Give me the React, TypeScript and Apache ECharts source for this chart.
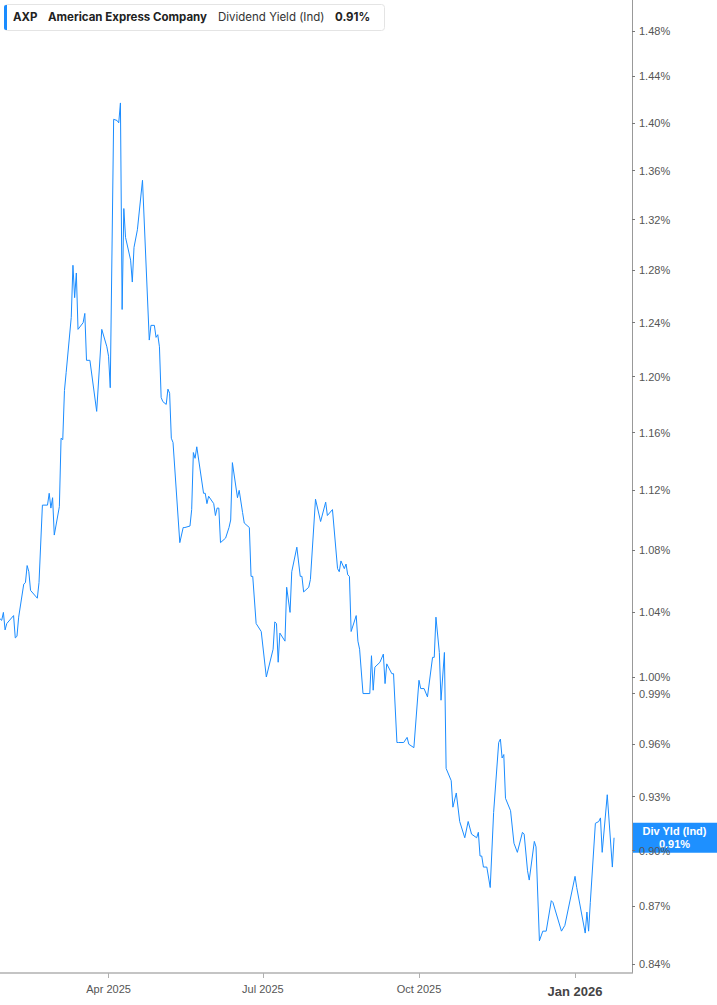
import React, { useEffect, useRef } from "react";
import * as echarts from "echarts";

const DATES = [
  "2025-01-27","2025-01-28","2025-01-29","2025-01-30","2025-01-31","2025-02-04","2025-02-05","2025-02-06","2025-02-07","2025-02-10",
  "2025-02-11","2025-02-12","2025-02-13","2025-02-14","2025-02-18","2025-02-19","2025-02-21","2025-02-24","2025-02-25","2025-02-26",
  "2025-02-27","2025-02-28","2025-03-03","2025-03-04","2025-03-05","2025-03-06","2025-03-07","2025-03-10","2025-03-11","2025-03-12",
  "2025-03-13","2025-03-14","2025-03-17","2025-03-18","2025-03-19","2025-03-21","2025-03-25","2025-03-28","2025-03-31","2025-04-01",
  "2025-04-02","2025-04-04","2025-04-06","2025-04-07","2025-04-08","2025-04-09","2025-04-10","2025-04-11","2025-04-14","2025-04-15",
  "2025-04-16","2025-04-18","2025-04-21","2025-04-25","2025-04-26","2025-04-28","2025-04-29","2025-04-30","2025-05-01","2025-05-02",
  "2025-05-03","2025-05-05","2025-05-06","2025-05-07","2025-05-08","2025-05-09","2025-05-13","2025-05-15","2025-05-16","2025-05-19",
  "2025-05-20","2025-05-21","2025-05-22","2025-05-23","2025-05-27","2025-05-28","2025-05-29","2025-05-30","2025-06-02","2025-06-03",
  "2025-06-04","2025-06-05","2025-06-06","2025-06-09","2025-06-11","2025-06-12","2025-06-13","2025-06-16","2025-06-17","2025-06-19",
  "2025-06-20","2025-06-23","2025-06-24","2025-06-25","2025-06-27","2025-06-30","2025-07-03","2025-07-07","2025-07-08","2025-07-09",
  "2025-07-10","2025-07-11","2025-07-14","2025-07-15","2025-07-17","2025-07-18","2025-07-21","2025-07-23","2025-07-24","2025-07-25",
  "2025-07-28","2025-07-29","2025-08-01","2025-08-04","2025-08-07","2025-08-08","2025-08-11","2025-08-14","2025-08-15","2025-08-16",
  "2025-08-18","2025-08-19","2025-08-20","2025-08-21","2025-08-22","2025-08-25","2025-08-26","2025-08-27","2025-08-29","2025-09-02",
  "2025-09-03","2025-09-04","2025-09-05","2025-09-08","2025-09-10","2025-09-11","2025-09-12","2025-09-15","2025-09-16","2025-09-18",
  "2025-09-19","2025-09-21","2025-09-22","2025-09-24","2025-09-25","2025-09-28","2025-10-01","2025-10-02","2025-10-04","2025-10-06",
  "2025-10-09","2025-10-10","2025-10-11","2025-10-13","2025-10-14","2025-10-16","2025-10-17","2025-10-20","2025-10-21","2025-10-23",
  "2025-10-25","2025-10-28","2025-10-30","2025-11-01","2025-11-04","2025-11-05","2025-11-06","2025-11-07","2025-11-08","2025-11-10",
  "2025-11-12","2025-11-14","2025-11-17","2025-11-18","2025-11-19","2025-11-20","2025-11-21","2025-11-24","2025-11-26","2025-11-28",
  "2025-12-01","2025-12-02","2025-12-04","2025-12-05","2025-12-08","2025-12-09","2025-12-11","2025-12-13","2025-12-15","2025-12-18",
  "2025-12-19","2025-12-24","2025-12-26","2026-01-01","2026-01-02","2026-01-07","2026-01-08","2026-01-09","2026-01-10","2026-01-13",
  "2026-01-15","2026-01-16","2026-01-17","2026-01-20","2026-01-23","2026-01-24",
];

const YIELDS = [
  1.036,1.035,1.040,1.029,1.033,1.038,1.024,1.025,1.037,1.058,
  1.059,1.070,1.066,1.054,1.049,1.059,1.110,1.110,1.118,1.108,
  1.115,1.090,1.109,1.156,1.155,1.190,1.203,1.244,1.284,1.259,
  1.278,1.235,1.240,1.247,1.212,1.212,1.175,1.235,1.222,1.215,
  1.192,1.403,1.402,1.400,1.417,1.250,1.329,1.306,1.288,1.271,
  1.298,1.312,1.352,1.227,1.238,1.238,1.229,1.231,1.222,1.185,
  1.182,1.180,1.191,1.188,1.156,1.153,1.085,1.095,1.095,1.096,
  1.107,1.146,1.142,1.150,1.118,1.118,1.111,1.116,1.111,1.103,
  1.108,1.108,1.085,1.088,1.095,1.100,1.139,1.115,1.120,1.105,
  1.098,1.095,1.063,1.063,1.033,1.028,1.000,1.017,1.034,1.033,
  1.009,1.027,1.022,1.056,1.040,1.066,1.082,1.063,1.063,1.053,
  1.056,1.061,1.114,1.099,1.112,1.103,1.107,1.068,1.066,1.073,
  1.068,1.071,1.064,1.063,1.028,1.038,1.022,1.017,0.990,0.990,
  1.013,0.992,1.006,1.009,1.014,0.996,1.008,1.002,1.002,0.961,
  0.961,0.961,0.961,0.964,0.960,0.958,0.998,0.993,0.993,0.988,
  1.012,1.012,1.037,1.015,0.986,1.015,0.946,0.939,0.924,0.932,
  0.916,0.907,0.916,0.909,0.907,0.910,0.897,0.897,0.891,0.891,
  0.880,0.921,0.961,0.963,0.952,0.954,0.929,0.922,0.904,0.899,
  0.910,0.909,0.889,0.884,0.905,0.902,0.852,0.857,0.857,0.873,
  0.872,0.857,0.860,0.886,0.880,0.856,0.867,0.857,0.872,0.915,
  0.916,0.918,0.899,0.931,0.891,0.907,
];

const Y_TICKS = [0.84, 0.87, 0.9, 0.93, 0.96, 0.99, 1.0, 1.04, 1.08, 1.12, 1.16, 1.2, 1.24, 1.28, 1.32, 1.36, 1.4, 1.44, 1.48];
const X_TICKS = ["2025-04-01", "2025-07-01", "2025-10-01", "2026-01-01"];
const X_RANGE = ["2025-01-27T00:00:00Z", "2026-02-03T14:00:00Z"];
const Y_RANGE = [0.8355, 1.5084];
const MONTHS = ["Jan","Feb","Mar","Apr","May","Jun","Jul","Aug","Sep","Oct","Nov","Dec"];

const TICKER = "AXP";
const COMPANY = "American Express Company";
const METRIC = "Dividend Yield (Ind)";
const SHORT_METRIC = "Div Yld (Ind)";

const BLUE = "#1a8cff";
const AXIS_FONT = "'Liberation Sans', Arial, sans-serif";
const TITLE_FONT = "Inter, 'Liberation Sans', sans-serif";

const toTs = (s: string) => Date.parse(s.length === 10 ? s + "T00:00:00Z" : s);

export default function App() {
  const ref = useRef<HTMLDivElement>(null);

  useEffect(() => {
    document.body.style.margin = "0";
    const el = ref.current;
    if (!el) return;
    const chart = echarts.init(el, undefined, { renderer: "svg" });

    const data = DATES.map((d, i) => [toTs(d), Math.log(YIELDS[i])]);
    const last = YIELDS[YIELDS.length - 1];
    const lastText = last.toFixed(2) + "%";

    chart.setOption({
      animation: false,
      backgroundColor: "#ffffff",
      grid: { left: 0, right: 85, top: 0, bottom: 32, containLabel: false },
      xAxis: {
        type: "value",
        min: toTs(X_RANGE[0]),
        max: toTs(X_RANGE[1]),
        axisLine: { show: true, onZero: false, lineStyle: { color: "#b0b0b0", width: 1.5 } },
        axisTick: { show: true, length: 5, lineStyle: { color: "#b0b0b0" }, customValues: X_TICKS.map(toTs) },
        splitLine: { show: false },
        axisLabel: {
          customValues: X_TICKS.map(toTs),
          margin: 10,
          formatter: (v: number) => {
            const d = new Date(v);
            const m = d.getUTCMonth();
            const txt = `${MONTHS[m]} ${d.getUTCFullYear()}`;
            return m === 0 ? `{b|${txt}}` : `{a|${txt}}`;
          },
          rich: {
            a: { fontFamily: AXIS_FONT, fontSize: 11, color: "#555" },
            b: { fontFamily: AXIS_FONT, fontSize: 13, fontWeight: "bold", color: "#444", padding: [2, 0, 0, 0] },
          },
        },
      },
      yAxis: {
        type: "value",
        position: "right",
        min: Math.log(Y_RANGE[0]),
        max: Math.log(Y_RANGE[1]),
        axisLine: { show: true, lineStyle: { color: "#999", width: 1 } },
        axisTick: { show: true, length: 3, lineStyle: { color: "#777" }, customValues: Y_TICKS.map((t) => Math.log(t)) },
        splitLine: { show: false },
        axisLabel: {
          customValues: Y_TICKS.map((t) => Math.log(t)),
          margin: 7,
          fontFamily: AXIS_FONT,
          fontSize: 11,
          color: "#555",
          formatter: (v: number) => Math.exp(v).toFixed(2) + "%",
        },
      },
      series: [
        {
          type: "line",
          data,
          showSymbol: false,
          symbol: "none",
          lineStyle: { color: BLUE, width: 1 },
          itemStyle: { color: BLUE },
        },
      ],
    });

    const py = chart.convertToPixel({ yAxisIndex: 0 }, Math.log(last)) as number;
    const axisX = chart.convertToPixel({ xAxisIndex: 0 }, toTs(X_RANGE[1])) as number;

    chart.setOption({
      graphic: [
        {
          type: "group",
          z: 100,
          children: [
            { type: "rect", shape: { x: 4.5, y: 4.5, width: 380, height: 26, r: 3 }, style: { fill: "#fff", stroke: "#e4e4e4", lineWidth: 1 } },
            { type: "rect", shape: { x: 4, y: 5, width: 3, height: 25, r: [2, 0, 0, 2] }, style: { fill: BLUE } },
            { type: "text", x: 13, y: 17, style: { text: TICKER, fontFamily: TITLE_FONT, fontSize: 11.5, fontWeight: "bold", fill: "#222", verticalAlign: "middle" } },
            { type: "text", x: 48, y: 17, style: { text: COMPANY, fontFamily: TITLE_FONT, fontSize: 11.5, fontWeight: "bold", fill: "#222", verticalAlign: "middle" } },
            { type: "text", x: 218, y: 17, style: { text: METRIC, fontFamily: TITLE_FONT, fontSize: 11.5, fontWeight: "normal", fill: "#333", verticalAlign: "middle" } },
            { type: "text", x: 335, y: 17, style: { text: lastText, fontFamily: TITLE_FONT, fontSize: 11.5, fontWeight: "bold", fill: "#222", verticalAlign: "middle" } },
          ],
        },
        {
          type: "group",
          z: 100,
          children: [
            { type: "rect", shape: { x: axisX, y: py - 15, width: 717 - axisX, height: 30 }, style: { fill: "#1e90ff" } },
            { type: "text", x: axisX + (717 - axisX) / 2, y: py - 7, style: { text: SHORT_METRIC, fontFamily: AXIS_FONT, fontSize: 11, fontWeight: "bold", fill: "#fff", align: "center", verticalAlign: "middle" } },
            { type: "text", x: axisX + (717 - axisX) / 2, y: py + 6, style: { text: lastText, fontFamily: AXIS_FONT, fontSize: 11, fontWeight: "bold", fill: "#fff", align: "center", verticalAlign: "middle" } },
          ],
        },
      ],
    });

    return () => chart.dispose();
  }, []);

  return <div ref={ref} style={{ width: 717, height: 1005 }} />;
}
